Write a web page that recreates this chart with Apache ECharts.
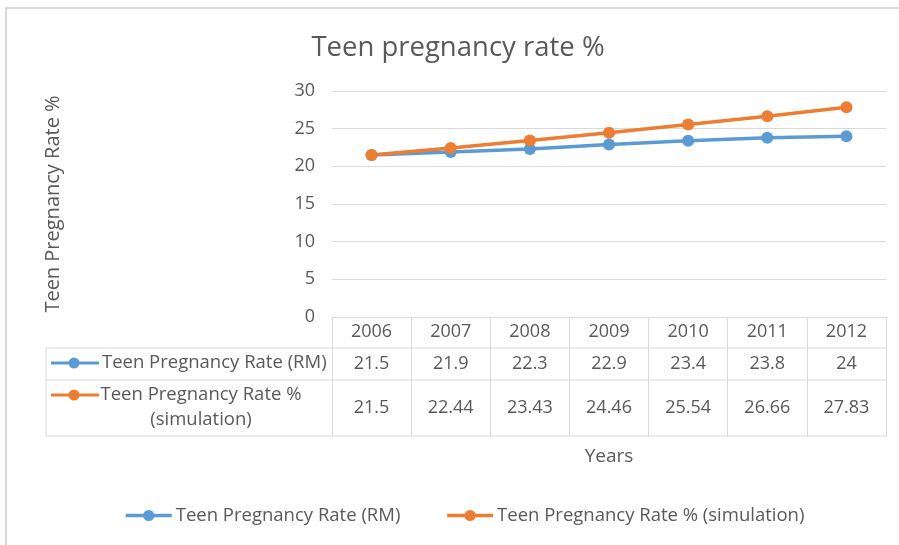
<!DOCTYPE html>
<html>
<head>
<meta charset="utf-8">
<title>Teen pregnancy rate %</title>
<script src="https://cdn.jsdelivr.net/npm/echarts@6/dist/echarts.min.js"></script>
<style>
  html, body { margin: 0; padding: 0; background: #fff; }
  #chart { width: 899px; height: 545px; }
</style>
</head>
<body>
<div id="chart"></div>
<script>
// data
const years = ['2006', '2007', '2008', '2009', '2010', '2011', '2012'];
const rateRM = [21.5, 21.9, 22.3, 22.9, 23.4, 23.8, 24];
const rateSim = [21.5, 22.44, 23.43, 24.46, 25.54, 26.66, 27.83];
const yTicks = [0, 5, 10, 15, 20, 25, 30];

const nameRM = 'Teen Pregnancy Rate (RM)';
const nameSim = 'Teen Pregnancy Rate % (simulation)';

const blue = '#5b9bd5';
const orange = '#ed7d31';
const textColor = '#595959';
const lineColor = '#d9d9d9';
const font = 'Open Sans';

// layout of the plot and the table under it
const gridLeft = 332, gridRight = 886, gridTop = 91, gridBottom = 317;
const rowHead = 348, row1 = 380, row2 = 436, tableLeft = 46;

const chart = echarts.init(document.getElementById('chart'));

// small helper for the table's row headers (icon like the legend)
const rowIcon = (y, color) => [
  { type: 'line', shape: { x1: 51, y1: y, x2: 99, y2: y }, style: { stroke: color, lineWidth: 3 } },
  { type: 'circle', shape: { cx: 74, cy: y, r: 5.5 }, style: { fill: color } }
];

const hLine = (y, x1) => ({
  type: 'line', shape: { x1: x1, y1: y, x2: gridRight, y2: y },
  style: { stroke: lineColor, lineWidth: 1 }
});

const option = {
  animation: false,
  textStyle: { fontFamily: font, color: textColor },
  title: {
    text: 'Teen pregnancy rate %',
    left: 453,
    textAlign: 'center',
    top: 29,
    textStyle: { fontFamily: font, fontSize: 27.5, fontWeight: 'normal', color: textColor }
  },
  legend: {
    data: [nameRM, nameSim],
    left: 119,
    top: 501,
    itemWidth: 46,
    itemHeight: 14,
    itemGap: 45,
    lineStyle: { width: 3.5 },
    textStyle: { fontFamily: font, fontSize: 18.5, color: textColor, padding: [0, 0, 0, -1] }
  },
  grid: {
    left: gridLeft,
    right: 899 - gridRight,
    top: gridTop,
    bottom: 545 - gridBottom
  },
  xAxis: [
    {
      type: 'category',
      data: years,
      position: 'bottom',
      boundaryGap: true,
      name: 'Years',
      nameLocation: 'middle',
      nameGap: 130,
      nameTextStyle: { fontFamily: font, fontSize: 19, color: textColor },
      axisLine: { show: true, lineStyle: { color: lineColor, width: 1 } },
      axisTick: { show: true, length: row2 - gridBottom, lineStyle: { color: lineColor } },
      axisLabel: { margin: 15, verticalAlign: 'middle', fontFamily: font, fontSize: 18, color: textColor }
    },
    {
      type: 'category',
      data: years,
      position: 'bottom',
      axisLine: { show: false },
      axisTick: { show: false },
      axisLabel: {
        margin: 47, verticalAlign: 'middle', fontFamily: font, fontSize: 18, color: textColor,
        formatter: (v, i) => String(rateRM[i])
      }
    },
    {
      type: 'category',
      data: years,
      position: 'bottom',
      axisLine: { show: false },
      axisTick: { show: false },
      axisLabel: {
        margin: 91, verticalAlign: 'middle', fontFamily: font, fontSize: 18, color: textColor,
        formatter: (v, i) => String(rateSim[i])
      }
    }
  ],
  yAxis: {
    type: 'value',
    min: yTicks[0],
    max: yTicks[yTicks.length - 1],
    interval: 5,
    name: 'Teen Pregnancy Rate %',
    nameLocation: 'middle',
    nameGap: 269,
    nameRotate: 90,
    nameTextStyle: { fontFamily: font, fontSize: 20, color: textColor },
    axisLine: { show: false },
    axisTick: { show: false },
    axisLabel: { margin: 17, fontFamily: font, fontSize: 18, color: textColor },
    splitLine: { lineStyle: { color: lineColor, width: 1 } }
  },
  series: [
    {
      name: nameRM,
      type: 'line',
      data: rateRM,
      symbol: 'circle',
      symbolSize: 12,
      itemStyle: { color: blue },
      lineStyle: { color: blue, width: 3.5 }
    },
    {
      name: nameSim,
      type: 'line',
      data: rateSim,
      symbol: 'circle',
      symbolSize: 12,
      itemStyle: { color: orange },
      lineStyle: { color: orange, width: 3.5 }
    }
  ],
  graphic: [
    // outer frame (top and left edges only are visible)
    { type: 'line', shape: { x1: 5, y1: 8, x2: 899, y2: 8 }, style: { stroke: lineColor, lineWidth: 2 } },
    { type: 'line', shape: { x1: 6, y1: 7, x2: 6, y2: 545 }, style: { stroke: lineColor, lineWidth: 2 } },
    // data table rules
    hLine(rowHead, tableLeft),
    hLine(row1, tableLeft),
    hLine(row2, tableLeft),
    { type: 'line', shape: { x1: tableLeft, y1: rowHead, x2: tableLeft, y2: row2 }, style: { stroke: lineColor, lineWidth: 1 } },
    // row headers
    ...rowIcon(363, blue),
    ...rowIcon(395, orange),
    {
      type: 'text', left: 102, top: 363 - 13,
      style: { text: nameRM, fontFamily: font, fontSize: 18.5, fill: textColor, lineHeight: 26 }
    },
    {
      type: 'text', x: 201, y: 395 - 13,
      style: {
        text: 'Teen Pregnancy Rate %\n(simulation)', align: 'center',
        fontFamily: font, fontSize: 18.5, fill: textColor, lineHeight: 25
      }
    }
  ]
};

chart.setOption(option);
</script>
</body>
</html>
